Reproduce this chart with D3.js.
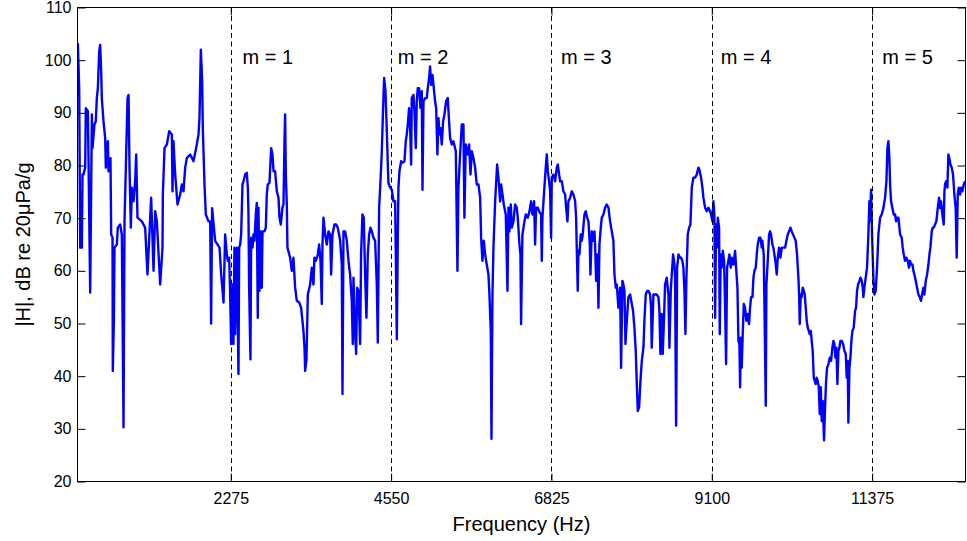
<!DOCTYPE html>
<html>
<head>
<meta charset="utf-8">
<script src="https://cdn.jsdelivr.net/npm/d3@7"></script>
<style>
  body { margin: 0; background: #fff; }
  svg { display: block; }
  text { font-family: Arial, "Liberation Sans", Helvetica, sans-serif; fill: #000; }
</style>
</head>
<body>
<svg id="chart" width="967" height="541"></svg>
<script>
// Frequency response points: [frequency (Hz), |H| (dB re 20µPa/g)]
const spectrum = [
  [105,103.2],[124,94.7],[138,64.4],[152,75.1],[162,64.4],[171,78.3],[185,78.3],[209,79.6],[218,90.9],[247,90.3],
  [256,81.4],[280,55.9],[304,89.7],[313,83.3],[341,87.8],[360,88.4],[374,92.8],[389,94.7],[408,101.7],[422,102.9],
  [436,97.9],[445,92.8],[469,88.4],[493,85.2],[502,79.6],[531,84.6],[540,78.9],[568,81.4],[578,66.9],[597,66.3],
  [601,41.0],[616,50.5],[625,64.4],[658,65.0],[672,68.2],[705,68.8],[729,66.9],[753,30.3],[767,69.4],[786,79.6],
  [810,92.8],[824,93.4],[838,79.6],[857,68.2],[871,75.8],[895,73.2],[918,77.0],[933,82.1],[951,70.1],[1013,69.4],
  [1060,68.2],[1093,59.3],[1145,73.9],[1179,60.0],[1202,71.3],[1226,69.4],[1273,57.4],[1306,64.4],[1311,74.5],[1335,83.3],
  [1368,84.0],[1401,86.5],[1439,85.9],[1448,75.1],[1462,84.6],[1486,78.3],[1519,72.6],[1557,74.5],[1581,76.4],[1604,75.1],
  [1628,79.6],[1651,81.4],[1699,82.1],[1746,80.8],[1793,84.0],[1817,85.9],[1831,89.0],[1850,102.0],[1869,96.0],[1878,87.1],
  [1902,76.4],[1921,70.7],[1959,69.4],[1983,69.4],[1996,50.0],[2010,71.9],[2053,65.7],[2115,64.4],[2139,59.3],[2172,54.0],
  [2195,66.9],[2219,63.1],[2233,61.9],[2252,62.5],[2266,55.5],[2280,46.1],[2299,57.4],[2313,46.1],[2327,64.4],[2337,48.0],
  [2361,64.4],[2384,40.4],[2394,64.4],[2408,65.0],[2422,66.9],[2441,76.4],[2455,77.0],[2479,78.3],[2502,78.6],[2517,75.8],
  [2526,70.7],[2535,57.4],[2554,43.2],[2564,66.3],[2583,64.4],[2597,66.9],[2611,65.7],[2630,70.7],[2644,72.9],[2658,51.1],
  [2668,72.0],[2682,56.2],[2696,67.5],[2715,56.8],[2725,67.5],[2753,67.5],[2772,68.2],[2786,74.5],[2800,76.4],[2824,76.7],
  [2848,83.3],[2867,82.1],[2881,78.9],[2904,78.9],[2928,75.1],[2952,73.9],[2966,70.1],[2985,68.8],[3008,72.0],[3023,72.6],
  [3037,84.6],[3046,89.7],[3056,78.3],[3070,72.6],[3079,64.4],[3117,62.5],[3141,60.0],[3164,62.5],[3188,56.8],[3212,54.3],
  [3245,54.0],[3273,53.0],[3306,48.6],[3321,45.4],[3330,41.0],[3349,43.2],[3368,55.5],[3401,57.4],[3425,60.6],[3448,57.4],
  [3462,62.5],[3481,61.9],[3510,63.1],[3529,65.0],[3548,61.9],[3566,53.7],[3576,65.0],[3590,70.1],[3614,66.9],[3637,65.0],
  [3661,67.5],[3685,66.9],[3699,59.3],[3718,66.9],[3746,68.8],[3770,68.8],[3793,68.2],[3812,66.9],[3827,65.7],[3850,61.2],
  [3860,36.6],[3874,67.5],[3897,67.5],[3921,65.7],[3945,61.9],[3968,59.3],[3992,54.3],[4006,46.1],[4016,58.7],[4039,48.0],
  [4054,44.2],[4068,56.8],[4087,56.2],[4110,46.1],[4124,63.1],[4143,70.7],[4162,70.1],[4181,59.3],[4200,51.1],[4219,63.1],
  [4238,66.9],[4257,68.2],[4276,67.5],[4299,66.3],[4323,65.7],[4347,57.4],[4361,46.4],[4380,72.0],[4399,77.0],[4418,82.7],
  [4436,90.9],[4451,96.6],[4470,94.1],[4489,86.5],[4503,80.2],[4512,76.7],[4536,75.8],[4560,75.4],[4583,73.2],[4607,73.2],
  [4616,63.8],[4631,47.0],[4645,66.9],[4654,75.8],[4668,78.9],[4692,80.8],[4711,80.5],[4739,80.8],[4758,84.6],[4772,85.9],
  [4787,87.8],[4805,90.9],[4820,87.1],[4834,80.2],[4843,92.8],[4867,93.4],[4881,90.3],[4900,83.3],[4914,92.2],[4928,94.7],
  [4947,94.7],[4966,90.9],[4985,94.1],[4995,75.4],[5009,92.2],[5032,92.8],[5056,92.8],[5070,94.7],[5089,96.6],[5103,98.8],
  [5118,95.3],[5137,97.2],[5151,95.3],[5174,92.2],[5189,90.9],[5207,82.1],[5222,89.0],[5236,85.9],[5250,87.1],[5269,84.0],
  [5288,88.4],[5307,89.7],[5330,92.2],[5354,92.8],[5364,90.3],[5387,85.2],[5411,84.0],[5434,84.6],[5468,82.7],[5491,60.0],
  [5505,75.8],[5529,82.1],[5553,87.8],[5576,87.8],[5590,70.1],[5609,84.0],[5638,82.1],[5657,84.0],[5676,78.3],[5695,82.7],
  [5718,81.4],[5742,79.6],[5765,76.4],[5789,76.4],[5813,73.9],[5827,66.3],[5846,61.9],[5865,65.7],[5884,63.1],[5907,61.2],
  [5931,59.3],[5945,55.5],[5964,48.6],[5974,28.1],[5988,55.5],[6002,64.4],[6026,73.2],[6054,80.2],[6073,77.7],[6087,75.1],
  [6097,73.2],[6111,76.4],[6130,74.5],[6149,72.6],[6177,70.7],[6201,56.2],[6215,72.0],[6229,67.5],[6248,72.6],[6262,68.2],
  [6286,69.4],[6309,72.6],[6333,72.0],[6347,70.1],[6371,65.0],[6385,63.1],[6394,49.9],[6413,66.9],[6442,69.4],[6461,70.7],
  [6489,70.1],[6513,71.3],[6536,73.2],[6555,70.7],[6579,73.2],[6593,65.0],[6607,72.0],[6631,72.0],[6650,71.3],[6678,70.7],
  [6688,61.9],[6697,70.1],[6725,75.8],[6744,79.6],[6759,82.1],[6773,78.9],[6792,77.0],[6806,75.1],[6820,66.3],[6830,77.7],
  [6853,78.3],[6877,77.0],[6901,79.6],[6915,80.2],[6934,78.3],[6948,77.0],[6971,77.0],[6995,75.1],[7019,74.5],[7033,72.0],
  [7052,69.4],[7066,73.2],[7090,73.9],[7113,75.1],[7137,74.5],[7161,73.2],[7175,70.1],[7184,64.4],[7198,56.2],[7208,63.8],
  [7222,63.1],[7241,66.9],[7255,65.7],[7269,66.9],[7293,70.7],[7312,71.3],[7331,70.1],[7350,69.4],[7369,65.0],[7378,59.3],
  [7397,67.5],[7421,65.7],[7435,67.5],[7444,65.0],[7459,58.1],[7477,63.1],[7492,53.0],[7506,65.0],[7525,68.2],[7539,70.1],
  [7563,70.7],[7586,72.0],[7610,72.6],[7634,72.0],[7657,69.4],[7681,67.5],[7704,65.7],[7719,59.3],[7738,56.8],[7752,57.4],
  [7775,53.0],[7799,56.8],[7813,41.6],[7832,58.1],[7846,57.4],[7861,56.2],[7875,46.1],[7894,50.5],[7917,55.0],[7941,55.5],
  [7965,53.7],[7983,52.4],[8002,49.2],[8021,44.8],[8036,38.5],[8050,33.4],[8069,34.1],[8088,39.1],[8107,42.9],[8130,45.4],
  [8144,50.5],[8163,55.5],[8182,56.2],[8201,56.2],[8225,55.5],[8239,53.0],[8248,45.4],[8272,55.5],[8296,55.5],[8319,55.5],
  [8343,55.0],[8357,52.4],[8371,44.2],[8390,51.8],[8404,44.2],[8423,51.1],[8437,57.4],[8461,58.7],[8485,55.5],[8499,45.4],
  [8518,56.2],[8532,59.3],[8551,63.1],[8570,61.2],[8579,58.7],[8594,30.6],[8608,60.6],[8627,63.1],[8650,62.5],[8664,62.5],
  [8683,61.9],[8697,60.6],[8712,56.2],[8726,48.0],[8740,58.7],[8759,66.9],[8778,68.2],[8797,68.8],[8816,75.8],[8839,77.7],
  [8863,77.7],[8887,78.3],[8910,79.6],[8924,79.2],[8948,77.7],[8967,75.8],[8981,73.9],[9005,72.0],[9029,71.3],[9052,72.0],
  [9076,71.3],[9090,70.7],[9109,69.4],[9123,73.2],[9137,70.7],[9147,51.1],[9161,68.8],[9175,64.4],[9185,70.1],[9204,68.2],
  [9213,48.0],[9227,63.1],[9241,60.6],[9256,63.8],[9275,61.9],[9289,53.0],[9303,42.3],[9317,60.6],[9336,61.9],[9350,63.1],
  [9369,60.6],[9383,62.5],[9407,61.2],[9431,63.8],[9445,60.6],[9464,56.8],[9478,46.7],[9492,46.1],[9502,37.9],[9511,47.3],
  [9525,41.6],[9539,48.0],[9554,53.7],[9572,53.0],[9591,50.5],[9610,51.8],[9629,49.9],[9643,53.0],[9658,55.0],[9677,55.0],
  [9691,58.7],[9705,60.0],[9724,60.6],[9738,63.1],[9752,65.0],[9771,66.3],[9790,66.3],[9809,64.4],[9818,65.7],[9837,63.1],
  [9847,53.7],[9866,34.4],[9875,57.4],[9894,61.9],[9913,66.9],[9927,67.5],[9941,66.9],[9960,65.0],[9974,64.4],[9989,63.1],
  [10008,61.2],[10022,59.3],[10036,62.5],[10055,64.4],[10074,62.5],[10093,64.4],[10116,64.4],[10140,64.4],[10159,65.7],[10178,66.9],
  [10197,67.5],[10216,68.2],[10235,67.5],[10253,66.9],[10272,66.3],[10291,65.7],[10310,63.1],[10329,58.7],[10339,55.5],[10348,49.9],
  [10362,55.5],[10376,55.0],[10391,56.8],[10405,56.2],[10419,55.5],[10433,53.0],[10447,50.5],[10462,49.2],[10476,48.6],[10490,48.0],
  [10504,48.6],[10518,46.7],[10532,44.8],[10547,39.7],[10561,39.1],[10575,38.5],[10589,39.7],[10603,39.1],[10618,37.9],[10632,32.8],
  [10646,37.9],[10660,31.5],[10674,35.3],[10693,27.8],[10707,34.1],[10722,39.1],[10736,41.6],[10755,42.3],[10774,43.5],[10793,42.9],
  [10811,45.4],[10826,46.7],[10840,46.1],[10854,43.5],[10868,45.4],[10882,38.5],[10897,44.8],[10911,45.4],[10925,46.7],[10944,46.7],
  [10963,46.1],[10982,44.8],[11001,44.2],[11015,39.7],[11029,42.9],[11038,31.2],[11053,41.6],[11067,43.5],[11081,46.7],[11095,48.6],
  [11114,49.2],[11133,52.4],[11147,53.0],[11161,56.2],[11176,57.4],[11195,58.1],[11209,58.7],[11228,58.1],[11242,56.8],[11251,55.0],
  [11265,56.8],[11284,58.7],[11303,60.6],[11322,66.9],[11336,73.2],[11346,69.4],[11360,75.4],[11374,66.9],[11393,58.7],[11407,55.5],
  [11426,56.2],[11445,60.6],[11464,66.9],[11488,70.1],[11511,70.7],[11535,71.9],[11559,73.9],[11578,77.0],[11592,83.3],[11606,84.6],
  [11620,81.4],[11630,76.4],[11644,73.2],[11663,71.9],[11682,70.7],[11701,70.7],[11715,69.4],[11729,70.1],[11748,70.1],[11772,66.9],
  [11795,66.3],[11809,64.4],[11824,63.1],[11842,61.9],[11861,62.5],[11880,61.9],[11899,60.6],[11913,61.9],[11928,61.2],[11947,61.2],
  [11961,60.0],[11975,59.3],[11994,58.1],[12013,56.8],[12032,55.5],[12051,55.0],[12069,54.3],[12084,55.5],[12103,56.8],[12117,55.5],
  [12136,58.1],[12155,59.3],[12174,61.2],[12188,63.1],[12202,64.4],[12221,67.5],[12235,68.2],[12249,68.2],[12268,68.8],[12287,69.4],
  [12306,71.9],[12325,73.9],[12339,71.9],[12353,73.2],[12372,70.7],[12391,68.8],[12401,75.1],[12410,76.4],[12424,77.0],[12443,75.8],
  [12457,82.1],[12471,81.4],[12486,80.2],[12505,79.6],[12523,78.3],[12542,74.5],[12561,71.9],[12575,62.5],[12590,74.5],[12604,75.8],
  [12623,74.5],[12637,75.8],[12656,75.1],[12675,76.4],[12694,77.0]
];

const xDomain = [100, 12700];
const yDomain = [20, 110];
const xTickValues = [2275, 4550, 6825, 9100, 11375];
const yTickValues = [20, 30, 40, 50, 60, 70, 80, 90, 100, 110];
const modeLineFreqs = [2275, 4550, 6825, 9100, 11375];
const modeLabels = ["m = 1", "m = 2", "m = 3", "m = 4", "m = 5"];
const modeLabelFreqs = [2441, 4645, 6962, 9228, 11520];
const modeLabelLevel = 99.2;
const xLabel = "Frequency (Hz)";
const yLabel = "|H|, dB re 20\u03bcPa/g";

const W = 967, H = 541;
const plot = { left: 77.5, right: 965.5, top: 7.5, bottom: 481.5 };

const svg = d3.select("#chart");
const x = d3.scaleLinear().domain(xDomain).range([plot.left, plot.right]);
const y = d3.scaleLinear().domain(yDomain).range([plot.bottom, plot.top]);

svg.append("defs").append("clipPath").attr("id", "clip")
  .append("rect")
  .attr("x", plot.left).attr("y", plot.top)
  .attr("width", plot.right - plot.left).attr("height", plot.bottom - plot.top);

// white plot background
svg.append("rect")
  .attr("x", plot.left).attr("y", plot.top)
  .attr("width", plot.right - plot.left).attr("height", plot.bottom - plot.top)
  .attr("fill", "#fff");

// curve
const line = d3.line().x(d => x(d[0])).y(d => y(d[1]));
svg.append("path")
  .datum(spectrum)
  .attr("clip-path", "url(#clip)")
  .attr("d", line)
  .attr("fill", "none")
  .attr("stroke", "#0000ff")
  .attr("stroke-width", 2.4)
  .attr("stroke-linejoin", "round");

// dashed mode lines
svg.append("g").selectAll("line")
  .data(modeLineFreqs)
  .join("line")
  .attr("x1", d => Math.round(x(d)) + 0.5).attr("x2", d => Math.round(x(d)) + 0.5)
  .attr("y1", plot.top).attr("y2", plot.bottom)
  .attr("stroke", "#000")
  .attr("stroke-width", 1)
  .attr("stroke-dasharray", "5,3.5");

// mode labels
svg.append("g").selectAll("text")
  .data(modeLabels)
  .join("text")
  .attr("x", (d, i) => x(modeLabelFreqs[i]))
  .attr("y", y(modeLabelLevel))
  .attr("font-size", 20)
  .text(d => d);

// axes
const tickLen = 8;
const gLeft = svg.append("g").attr("transform", `translate(${plot.left},0)`)
  .call(d3.axisLeft(y).tickValues(yTickValues).tickSize(-tickLen).tickSizeOuter(0).tickPadding(6));
const gRight = svg.append("g").attr("transform", `translate(${plot.right},0)`)
  .call(d3.axisRight(y).tickValues(yTickValues).tickSize(-tickLen).tickSizeOuter(0).tickFormat(""));
const gBottom = svg.append("g").attr("transform", `translate(0,${plot.bottom})`)
  .call(d3.axisBottom(x).tickValues(xTickValues).tickSize(-tickLen).tickSizeOuter(0).tickPadding(11).tickFormat(d3.format("d")));
const gTop = svg.append("g").attr("transform", `translate(0,${plot.top})`)
  .call(d3.axisTop(x).tickValues(xTickValues).tickSize(-tickLen).tickSizeOuter(0).tickFormat(""));

[gLeft, gRight, gBottom, gTop].forEach(g => {
  g.selectAll(".domain").remove();
  g.selectAll(".tick line").attr("stroke", "#000").attr("stroke-width", 1);
  g.selectAll("text").attr("font-size", 16).attr("fill", "#000")
    .attr("font-family", "Arial, 'Liberation Sans', Helvetica, sans-serif");
});

// box
svg.append("rect")
  .attr("x", plot.left).attr("y", plot.top)
  .attr("width", plot.right - plot.left).attr("height", plot.bottom - plot.top)
  .attr("fill", "none").attr("stroke", "#000").attr("stroke-width", 1);

// axis labels
svg.append("text")
  .attr("x", (plot.left + plot.right) / 2)
  .attr("y", 531)
  .attr("text-anchor", "middle")
  .attr("font-size", 20)
  .text(xLabel);

svg.append("text")
  .attr("transform", `translate(30,${(plot.top + plot.bottom) / 2}) rotate(-90)`)
  .attr("text-anchor", "middle")
  .attr("font-size", 20)
  .text(yLabel);
</script>
</body>
</html>
